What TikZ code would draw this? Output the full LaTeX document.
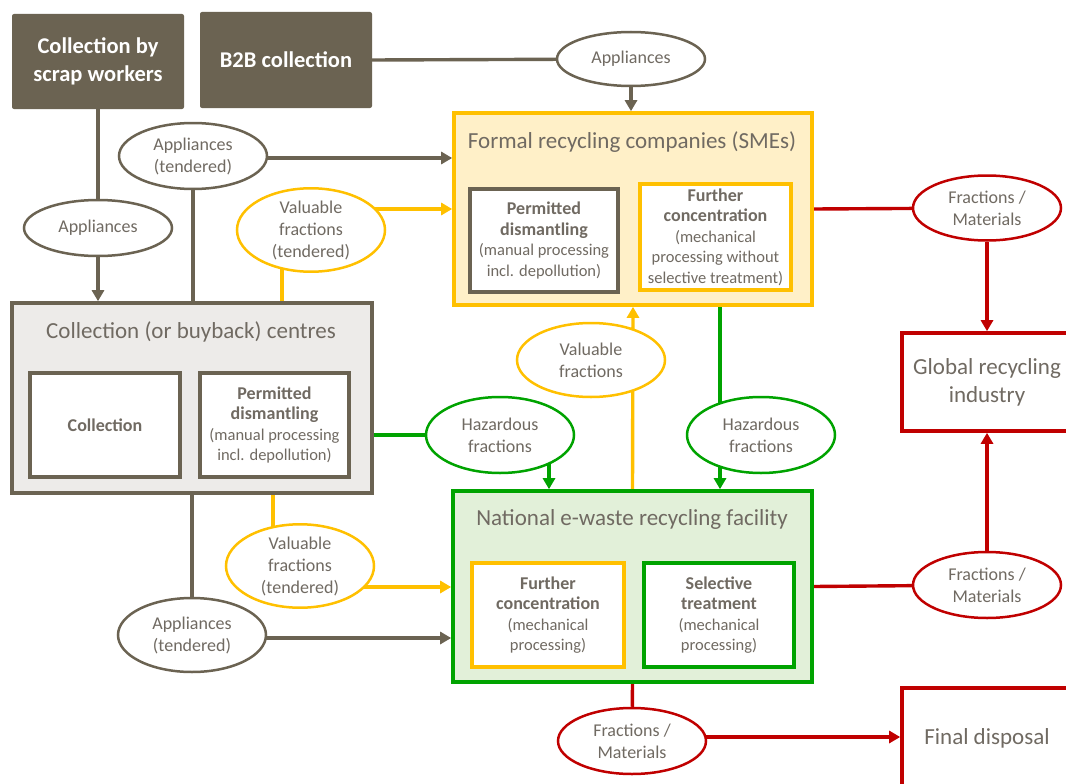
\documentclass[tikz,border=0pt]{standalone}
\usepackage{fontspec}
\setmainfont{Carlito}
\usetikzlibrary{shapes.geometric, arrows.meta, backgrounds}

\definecolor{brn}{RGB}{107,99,82}
\definecolor{ylw}{RGB}{255,192,0}
\definecolor{grn}{RGB}{0,163,0}
\definecolor{rd}{RGB}{192,0,0}
\definecolor{txt}{RGB}{112,106,98}
\definecolor{smefill}{RGB}{255,240,200}
\definecolor{natfill}{RGB}{226,240,217}
\definecolor{collfill}{RGB}{237,235,233}

\newcommand{\hd}[1]{{\fontsize{18}{21}\selectfont\bfseries #1}}

\tikzset{
  box/.style={draw, line width=3.6pt, inner sep=0pt},
  inbox/.style={draw, fill=white, line width=3.2pt, inner sep=0pt, align=center,
    text=txt, font=\fontsize{16.5}{20.5}\selectfont},
  dark/.style={fill=brn, rounded corners=2pt, minimum width=172pt, text=white,
    align=center, font=\fontsize{22.5}{28}\selectfont\bfseries},
  flow/.style={draw, fill=white, ellipse, line width=2.5pt, minimum width=148pt,
    inner sep=0pt, text=txt, align=center, font=\fontsize{18}{22}\selectfont},
  boxtitle/.style={text=txt, font=\fontsize{23}{28}\selectfont},
  link/.style={line width=3.4pt},
  arr/.style={link, -{Triangle[length=11pt,width=12pt]}},
}

\begin{document}
\begin{tikzpicture}[x=1pt, y=-1pt]
  \useasboundingbox (0,0) rectangle (1066,784);

  % sources
  \node[dark, minimum height=95pt] (scrap) at (98,61.5) {Collection by\\scrap workers};
  \node[dark, minimum height=96pt] (b2b) at (286,60) {B2B collection};

  % formal recycling companies
  \node[box, draw=ylw, fill=smefill, minimum width=358pt, minimum height=192pt] (sme) at (633,209) {};
  \node[boxtitle] (smet) at (632,142) {Formal recycling companies (SMEs)};
  \node[inbox, draw=brn, minimum width=148pt, minimum height=103pt] (smed) at (544,240.5)
    {\hd{Permitted}\\\hd{dismantling}\\(manual processing\\incl. depollution)};
  \node[inbox, draw=ylw, minimum width=151pt, minimum height=106pt] (smef) at (715.5,237)
    {\hd{Further}\\\hd{concentration}\\(mechanical\\processing without\\selective treatment)};

  % collection centres
  \node[box, draw=brn, fill=collfill, minimum width=360pt, minimum height=190pt] (coll) at (192,398) {};
  \node[boxtitle] (collt) at (191,332) {Collection (or buyback) centres};
  \node[inbox, draw=brn, minimum width=150pt, minimum height=104pt] (collc) at (105,425) {\hd{Collection}};
  \node[inbox, draw=brn, minimum width=149pt, minimum height=104pt] (colld) at (274.5,425)
    {\hd{Permitted}\\\hd{dismantling}\\(manual processing\\incl. depollution)};

  % national facility
  \node[box, draw=grn, fill=natfill, minimum width=359pt, minimum height=191pt] (natl) at (632.5,586.5) {};
  \node[boxtitle] (natlt) at (632,519) {National e-waste recycling facility};
  \node[inbox, draw=ylw, minimum width=152pt, minimum height=104pt] (natlf) at (548,615)
    {\hd{Further}\\\hd{concentration}\\(mechanical\\processing)};
  \node[inbox, draw=grn, minimum width=150pt, minimum height=104pt] (natls) at (719,615)
    {\hd{Selective}\\\hd{treatment}\\(mechanical\\processing)};

  % sinks
  \node[box, draw=rd, fill=white, minimum width=170pt, minimum height=98pt, align=center,
    text=txt, font=\fontsize{23}{28}\selectfont] (glob) at (987,382) {Global recycling\\industry};
  \node[box, draw=rd, fill=white, minimum width=170pt, minimum height=100pt,
    text=txt, font=\fontsize{23}{28}\selectfont] (disp) at (987,738) {Final disposal};

  % flows
  \node[flow, draw=brn, minimum height=54pt] (app0) at (631,59) {Appliances};
  \node[flow, draw=brn, minimum height=66pt] (appT1) at (193,156) {Appliances\\(tendered)};
  \node[flow, draw=brn, minimum height=56pt] (app1) at (98,228) {Appliances};
  \node[flow, draw=ylw, minimum height=74pt] (vfT1) at (311,230) {Valuable\\fractions\\(tendered)};
  \node[flow, draw=grn, minimum height=76pt] (hz1) at (500,435) {Hazardous\\fractions};
  \node[flow, draw=ylw, minimum height=74pt] (vf2) at (591,360) {Valuable\\fractions};
  \node[flow, draw=grn, minimum height=76pt] (hz2) at (761,435) {Hazardous\\fractions};
  \node[flow, draw=rd, minimum height=65pt] (fm1) at (987,208) {Fractions /\\Materials};
  \node[flow, draw=rd, minimum height=66pt] (fm2) at (987,585) {Fractions /\\Materials};
  \node[flow, draw=rd, minimum height=66pt] (fm3) at (632,741) {Fractions /\\Materials};
  \node[flow, draw=ylw, minimum height=75pt] (vfT2) at (300,566) {Valuable\\fractions\\(tendered)};
  \node[flow, draw=brn, minimum height=74pt] (appT2) at (192,635) {Appliances\\(tendered)};

  \begin{scope}[on background layer]
    % appliances
    \draw[link, brn] (b2b.east) -- (app0);
    \draw[arr, brn] (app0.south) -- (app0 |- sme.north);
    \draw[link, brn] (scrap.south) -- (app1);
    \draw[arr, brn] (app1.south) -- (app1 |- coll.north);
    \draw[link, brn] (appT1 |- coll.north) -- (appT1);
    \draw[arr, brn] ([yshift=-2pt]appT1.center) -- ([yshift=-2pt]appT1.center -| sme.west);
    \draw[link, brn] (appT2 |- coll.south) -- (appT2);
    \draw[arr, brn] ([yshift=-3pt]appT2.center) -- ([yshift=-3pt]appT2.center -| natl.west);
    % valuable fractions
    \draw[link, ylw] ([xshift=-29pt]vfT1.center |- coll.north) -- ([xshift=-29pt]vfT1.center);
    \draw[arr, ylw] ([yshift=21pt]vfT1.center) -- ([yshift=21pt]vfT1.center -| sme.west);
    \draw[link, ylw] ([xshift=-27pt]vfT2.center |- coll.south) -- ([xshift=-27pt]vfT2.center);
    \draw[arr, ylw] ([yshift=-21pt]vfT2.center) -- ([yshift=-21pt]vfT2.center -| natl.west);
    \draw[arr, ylw] (natl.north) -- (sme.south);
    % hazardous fractions
    \draw[link, grn] (hz1 -| coll.east) -- (hz1);
    \draw[arr, grn] ([xshift=49pt]hz1.center) -- ([xshift=49pt]hz1.center |- natl.north);
    \draw[arr, grn] ([xshift=-41pt]hz2.center |- sme.south) -- ([xshift=-41pt]hz2.center |- natl.north);
    % fractions / materials
    \draw[link, rd] (sme.east) -- (fm1);
    \draw[arr, rd] (fm1.south) -- (glob.north);
    \draw[link, rd] (natl.east) -- (fm2);
    \draw[arr, rd] (fm2.north) -- (glob.south);
    \draw[link, rd] (natl.south) -- (fm3);
    \draw[arr, rd] ([yshift=4pt]fm3.center) -- ([yshift=4pt]fm3.center -| disp.west);
  \end{scope}
\end{tikzpicture}
\end{document}
